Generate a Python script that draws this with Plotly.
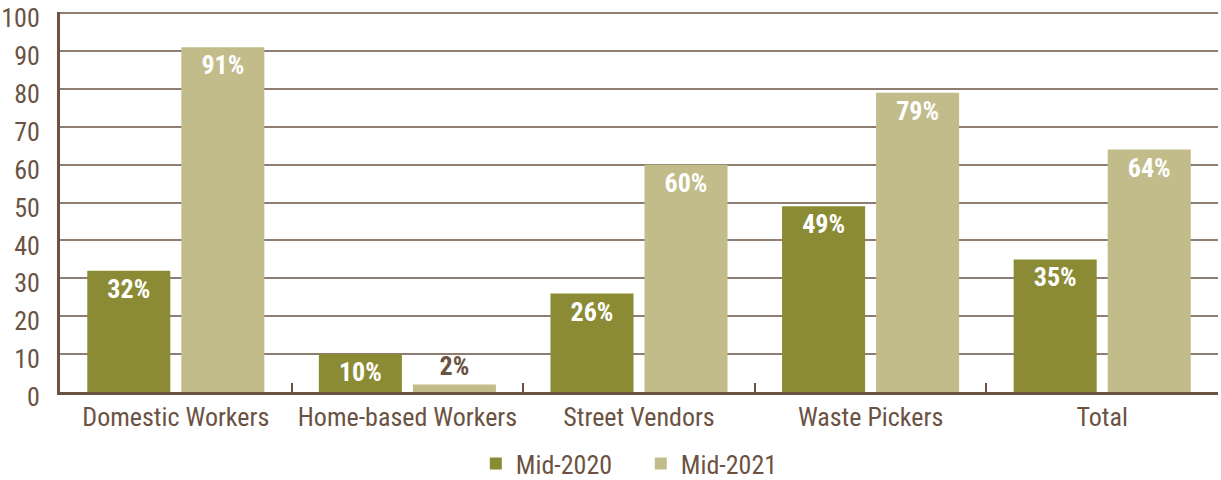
import plotly.graph_objects as go

categories = ["Domestic Workers", "Home-based Workers", "Street Vendors", "Waste Pickers", "Total"]
mid2020 = [32, 10, 26, 49, 35]
mid2021 = [91, 2, 60, 79, 64]
series_names = ["Mid-2020", "Mid-2021"]
ytick_vals = [0, 10, 20, 30, 40, 50, 60, 70, 80, 90, 100]

FONT = "Roboto Condensed, Liberation Sans Narrow, DejaVu Sans Condensed, Roboto, sans-serif"
BROWN = "#6b5242"
DARK = "#8b8b35"
LIGHT = "#c2bc8a"


def pos(vals):
    return ["inside" if v >= 8 else "outside" for v in vals]


def col(vals):
    return ["white" if v >= 8 else BROWN for v in vals]


fig = go.Figure()
for name, vals, c in [(series_names[0], mid2020, DARK), (series_names[1], mid2021, LIGHT)]:
    fig.add_trace(go.Bar(
        x=categories, y=vals, name=name, marker=dict(color=c, line=dict(width=0)),
        text=[f"{v}%" for v in vals], textposition=pos(vals), insidetextanchor="end",
        textfont=dict(family=FONT, size=26, color=col(vals), weight="bold"),
        cliponaxis=False,
    ))

fig.update_layout(
    width=1221, height=480,
    margin=dict(l=60, r=3, t=12, b=88),
    plot_bgcolor="white", paper_bgcolor="white",
    barmode="group", bargap=0.188, bargroupgap=0.117,
    font=dict(family=FONT, color=BROWN, size=26),
    legend=dict(orientation="h", xref="container", yref="container",
                x=0.3897, xanchor="left", y=0.083, yanchor="top",
                font=dict(size=26, color=BROWN), itemsizing="constant",
                entrywidth=120, entrywidthmode="pixels"),
    uniformtext=dict(mode=False),
)
fig.update_xaxes(
    showline=True, linecolor=BROWN, linewidth=3, automargin=False,
    ticks="inside", tickson="boundaries", ticklen=9, tickcolor=BROWN, tickwidth=2,
    tickfont=dict(size=26, color=BROWN), showgrid=False,
)
fig.update_yaxes(
    range=[0, 100.3], tickvals=ytick_vals, showgrid=True, gridcolor="#8e7e72", gridwidth=2,
    showline=True, linecolor=BROWN, linewidth=3, zeroline=False, automargin=False,
    tickfont=dict(size=26, color=BROWN), ticks="", ticklabelstandoff=12, ticklabelshift=5,
    ticklabeloverflow="allow",
)
fig.write_html(
    "out.html",
    config={"displayModeBar": False},
    post_script="document.body.style.margin='0';document.body.style.overflow='hidden';",
)
